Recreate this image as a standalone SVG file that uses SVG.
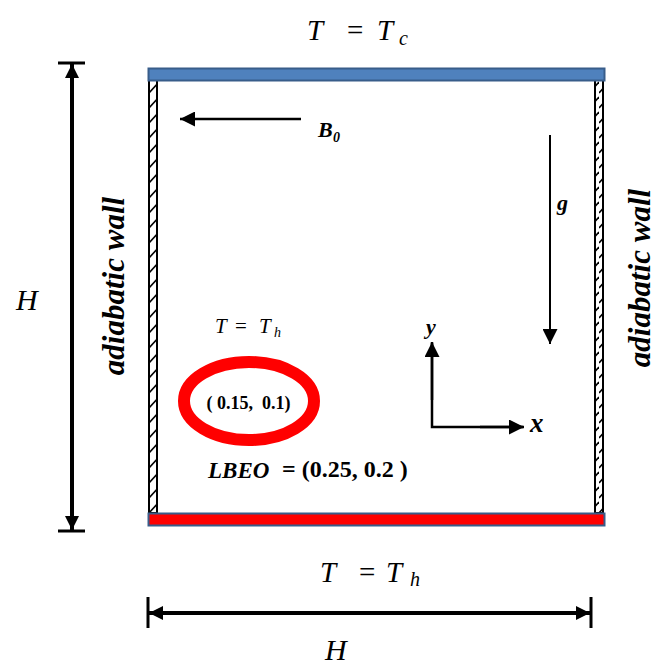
<svg xmlns="http://www.w3.org/2000/svg" width="651" height="666" viewBox="0 0 651 666">
<style>
.ser{font-family:"Liberation Serif","DejaVu Serif",serif;fill:#000}
.it{font-style:italic}
.b{font-weight:bold}
.ln{stroke:#000;fill:none}
</style>
<defs>
<pattern id="hatch" patternUnits="userSpaceOnUse" x="149" y="80" width="10" height="15">
<line x1="0" y1="13" x2="10" y2="2" stroke="#000" stroke-width="1.6"/>
</pattern>
<marker id="ahL" viewBox="0 0 10 10" refX="10" refY="5" markerWidth="16" markerHeight="14" markerUnits="userSpaceOnUse" orient="auto-start-reverse">
<path d="M0,0 L10,5 L0,10 Z" fill="#000"/>
</marker>
<marker id="ahM" viewBox="0 0 10 10" refX="10" refY="5" markerWidth="20" markerHeight="15" markerUnits="userSpaceOnUse" orient="auto">
<path d="M0,0 L10,5 L0,10 Z" fill="#000"/>
</marker>
</defs>

<g id="walls">
<rect x="149" y="80" width="8" height="433" fill="url(#hatch)" stroke="#000" stroke-width="2"/>
<rect x="595" y="80" width="8" height="433" fill="url(#hatch)" stroke="#000" stroke-width="2"/>
</g>
<g id="top-wall">
<rect x="148.5" y="68.5" width="456" height="12" fill="#4f81bd" stroke="#385d8a" stroke-width="2"/>
</g>
<g id="bottom-wall">
<rect x="148.5" y="513.5" width="456" height="12" fill="#ff0000" stroke="#385d8a" stroke-width="2"/>
</g>

<g id="connectors">
<line class="ln" x1="72" y1="64" x2="72" y2="530" stroke-width="4" marker-start="url(#ahL)" marker-end="url(#ahL)"/>
<line class="ln" x1="58" y1="63" x2="85" y2="63" stroke-width="3"/>
<line class="ln" x1="58" y1="531" x2="85" y2="531" stroke-width="3"/>
<line class="ln" x1="149" y1="613" x2="590" y2="613" stroke-width="4" marker-start="url(#ahL)" marker-end="url(#ahL)"/>
<line class="ln" x1="148" y1="597" x2="148" y2="628" stroke-width="3"/>
<line class="ln" x1="591" y1="597" x2="591" y2="628" stroke-width="3"/>
<line class="ln" x1="301" y1="119" x2="180" y2="119" stroke-width="2.5" marker-end="url(#ahM)"/>
<line class="ln" x1="550" y1="135" x2="550" y2="344" stroke-width="2" marker-end="url(#ahM)"/>
<polyline class="ln" points="432,343 432,427 523,427" stroke-width="2.5"/>
<line class="ln" x1="432" y1="400" x2="432" y2="342" stroke-width="2.5" marker-end="url(#ahM)"/>
<line class="ln" x1="480" y1="427" x2="524" y2="427" stroke-width="2.5" marker-end="url(#ahM)"/>
</g>

<g id="obstacle">
<ellipse cx="249" cy="401" rx="65" ry="39" fill="none" stroke="#ff0000" stroke-width="12"/>
<text class="ser b" x="248.5" y="409" font-size="18" text-anchor="middle" xml:space="preserve">( 0.15,  0.1)</text>
</g>

<g id="labels">
<text class="ser it" x="307" y="40" font-size="29">T</text>
<text class="ser" x="347" y="40" font-size="29">=</text>
<text class="ser it" x="377" y="40" font-size="29">T</text>
<text class="ser it" x="399" y="45" font-size="20">c</text>

<text class="ser it" x="320" y="582" font-size="29">T</text>
<text class="ser" x="359" y="582" font-size="29">=</text>
<text class="ser it" x="386" y="582" font-size="29">T</text>
<text class="ser it" x="410" y="586" font-size="20">h</text>

<text class="ser it" x="325" y="660" font-size="30">H</text>
<text class="ser it" x="16" y="310" font-size="30">H</text>

<text class="ser it" x="215" y="333" font-size="21">T</text>
<text class="ser" x="235" y="333" font-size="21">=</text>
<text class="ser it" x="259" y="333" font-size="21">T</text>
<text class="ser it" x="274" y="337" font-size="14">h</text>

<text class="ser b it" x="318" y="137" font-size="22">B</text>
<text class="ser b it" x="333" y="142" font-size="14">0</text>
<text class="ser b it" x="557" y="210" font-size="22">g</text>
<text class="ser b it" x="426" y="334" font-size="22">y</text>
<text class="ser b it" x="530" y="432" font-size="27">x</text>

<text class="ser b it" x="208" y="478" font-size="23">LBEO</text>
<text class="ser b" x="276" y="477" font-size="24" xml:space="preserve"> = (0.25, 0.2 )</text>

<text class="ser b it" transform="translate(124,286) rotate(-90)" font-size="31" text-anchor="middle">adiabatic wall</text>
<text class="ser b it" transform="translate(650,278) rotate(-90)" font-size="31" text-anchor="middle">adiabatic wall</text>
</g>
</svg>
